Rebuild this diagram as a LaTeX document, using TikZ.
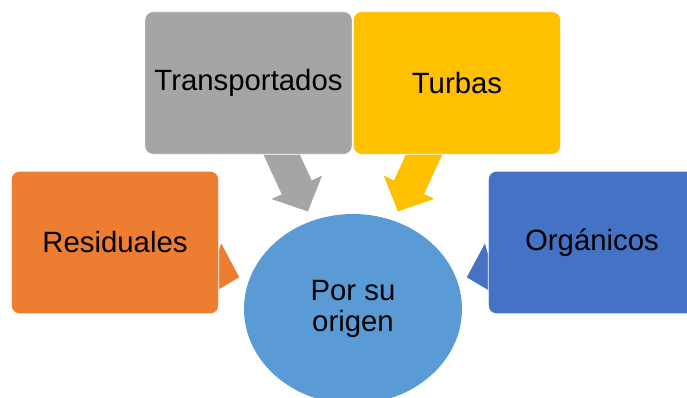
\documentclass[tikz,border=0pt]{standalone}
\usepackage{xcolor}
\usepackage{fontspec}
\setmainfont{Liberation Sans}
\usepackage{tikz}
\usetikzlibrary{shapes, arrows.meta, positioning}
\usetikzlibrary{calc}
\pgfdeclarelayer{background}
\pgfsetlayers{background,main}

\definecolor{boxgray}{HTML}{A5A5A5}
\definecolor{boxyellow}{HTML}{FFC000}
\definecolor{boxorange}{HTML}{ED7D31}
\definecolor{boxblue}{HTML}{4472C4}
\definecolor{circblue}{HTML}{5B9BD5}

\begin{document}
\begin{tikzpicture}
  [
    x=0.75pt, y=-0.75pt,
    Box/.style={rectangle, rounded corners=6pt, draw=white, line width=0.6pt, minimum width=155.5pt, minimum height=107pt, font=\fontsize{22}{23.5}\selectfont},
    Gray/.style={Box, fill=boxgray},
    Yellow/.style={Box, fill=boxyellow},
    Orange/.style={Box, fill=boxorange},
    Blue/.style={Box, fill=boxblue},
    Round/.style={ellipse, fill=circblue, minimum width=163.5pt, minimum height=142.5pt, inner sep=0pt, align=center, font=\fontsize{22}{23.5}\selectfont},
    Block/.style={line width=24.75pt, shorten >=7.5pt, -{Triangle[width=40.5pt, length=20pt]}}
  ]
  \clip (0, 0) rectangle (687, 398);

  % Nodes
  \node[Gray] (v1) at(248.5, 83) {Transportados};

  \node[Yellow] (v2) at(457, 83) {Turbas};

  \node[Orange] (v3) at(115, 242.5) {Residuales};

  \node[Blue] (v4) at(592, 242.5) {Orgánicos};

  \node[Round] (v5) at(353, 309) {Por su\\origen};

  % Lines
  \begin{pgfonlayer}{background}
  \path [draw, Block, boxgray] (v1.center) -- (v5);
  \path [draw, Block, boxyellow] (v2.center) -- (v5);
  \path [draw, Block, boxorange] (v3.center) -- (v5);
  \path [draw, Block, boxblue] (v4.center) -- (v5);
  \end{pgfonlayer}

\end{tikzpicture}
\end{document}
